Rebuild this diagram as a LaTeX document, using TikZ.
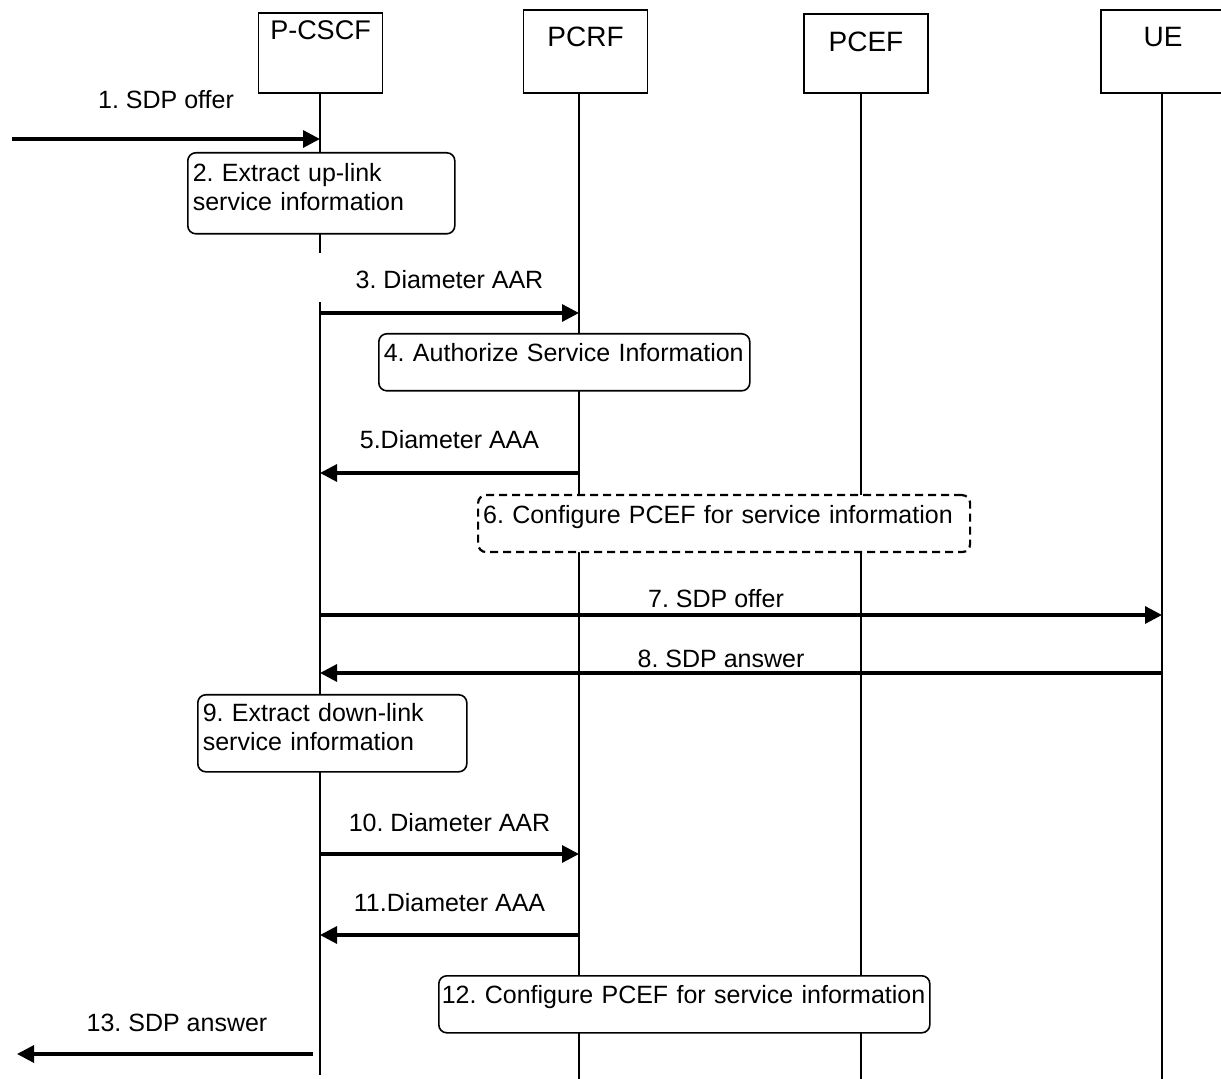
\documentclass[tikz,border=0pt]{standalone}
\usepackage{fontspec}
\setmainfont{Liberation Sans}
\usetikzlibrary{arrows.meta}
\frenchspacing
\begin{document}
\begin{tikzpicture}[x=0.5pt, y=-0.5pt,
  font=\fontsize{12.5}{14.5}\selectfont,
  ent/.style = {draw, line width=0.8pt, minimum width=62pt, inner ysep=0pt, anchor=base, text height=18.5pt, text depth=23pt, font=\fontsize{14}{16}\selectfont},
  life/.style = {line width=0.8pt},
  act/.style = {draw, fill=white, line width=0.8pt, rounded corners=4pt, anchor=north west, align=left, inner xsep=2.5pt, inner ysep=0pt, text height=14pt, text depth=14.5pt},
  act2/.style = {draw, fill=white, line width=0.8pt, rounded corners=4pt, anchor=north west, align=left, inner xsep=2.5pt, text depth=21pt},
  msg/.style = {line width=1.6pt, -{Triangle[length=8.5pt, width=8.5pt]}},
  lbl/.style = {anchor=base, inner sep=0pt}]
\useasboundingbox (0,0) rectangle (1221,1079);
\node[ent, text height=13.5pt, text depth=26.5pt, font=\fontsize{13.5}{16}\selectfont] (pcscf) at (320.5,40) {P-CSCF};
\node[ent] (pcrf) at (585.5,47) {PCRF};
\node[ent, text height=19pt, text depth=20.5pt] (pcef) at (866,52) {PCEF};
\node[ent] (ue) at (1163,47) {UE};
\coordinate (pcscfl) at (320,93);
\coordinate (pcrfl) at (579,93);
\coordinate (pcefl) at (861,93);
\coordinate (uel) at (1162,93);
\coordinate (g1) at (0,253);
\coordinate (g2) at (0,302);
\coordinate (e1) at (0,1075);
\coordinate (e2) at (0,1079);
\coordinate (m1) at (0,139);
\coordinate (m3) at (0,313);
\coordinate (m5) at (0,473);
\coordinate (m7) at (0,615);
\coordinate (m8) at (0,673);
\coordinate (m10) at (0,854);
\coordinate (m11) at (0,935);
\coordinate (in1) at (12,139);
\coordinate (s13) at (313,1054);
\coordinate (out13) at (17,1054);
\draw[life] (pcscfl) -- (pcscfl |- g1);
\draw[life] (pcscfl |- g2) -- (pcscfl |- e1);
\draw[life] (pcrfl) -- (pcrfl |- e2);
\draw[life] (pcefl) -- (pcefl |- e2);
\draw[life] (uel) -- (uel |- e2);
\node[act2, minimum height=40.5pt, text width=128.5pt] (2) at (187,152) {2. Extract up-link\\service information};
\node[act, text width=180.5pt] (4) at (378,333) {4. Authorize Service Information};
\node[act, line width=1.1pt, dash pattern=on 4pt off 2.5pt, text width=241pt] (6) at (477,494) {6. Configure PCEF for service information};
\node[act2, minimum height=38.5pt, text width=129.5pt] (9) at (197,694) {9. Extract down-link\\service information};
\node[act, inner xsep=1.5pt, text width=242.5pt] (12) at (438,975) {12. Configure PCEF for service information};
\draw[msg] (in1) -- node[lbl, yshift=15pt] (t1) {1. SDP offer} (pcscfl |- m1);
\draw[msg] (pcscfl |- m3) -- node[lbl, yshift=12pt] (t3) {3. Diameter AAR} (pcrfl |- m3);
\draw[msg] (pcrfl |- m5) -- node[lbl, yshift=12pt] (t5) {5.Diameter AAA} (pcscfl |- m5);
\draw[msg] (pcscfl |- m7) -- node[lbl, yshift=3.5pt, xshift=-12.5pt] (t7) {7. SDP offer} (uel |- m7);
\draw[msg] (uel |- m8) -- node[lbl, yshift=2.5pt, xshift=-10pt] (t8) {8. SDP answer} (pcscfl |- m8);
\draw[msg] (pcscfl |- m10) -- node[lbl, yshift=11.5pt] (t10) {10. Diameter AAR} (pcrfl |- m10);
\draw[msg] (pcrfl |- m11) -- node[lbl, yshift=12pt] (t11) {11.Diameter AAA} (pcscfl |- m11);
\draw[msg] (s13) -- node[lbl, yshift=11.5pt, xshift=6pt] (t13) {13. SDP answer} (out13);
\end{tikzpicture}
\end{document}
